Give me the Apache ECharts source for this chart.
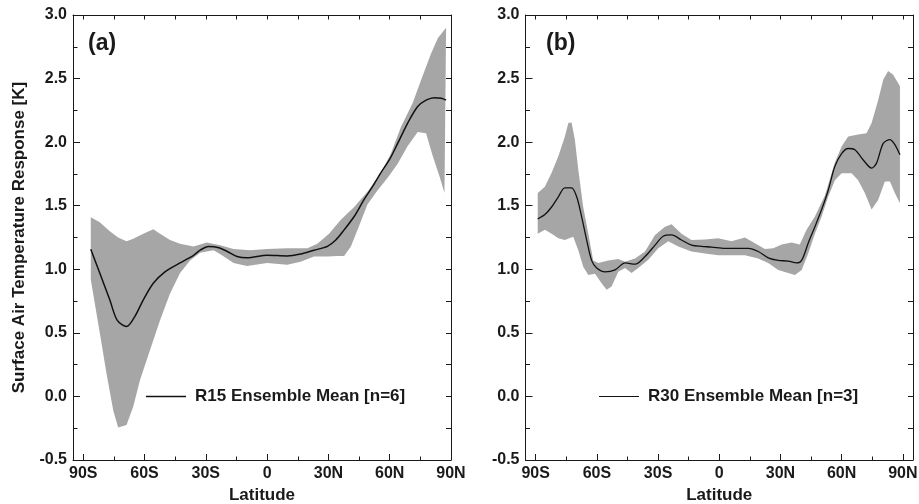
<!DOCTYPE html>
<html>
<head>
<meta charset="utf-8">
<script src="https://cdn.jsdelivr.net/npm/echarts@6/dist/echarts.min.js"></script>
<style>
  html, body { margin: 0; padding: 0; background: #fff; }
  #chart { width: 919px; height: 504px; }
</style>
</head>
<body>
<div id="chart"></div>
<script>
// tick labels
const latTicks = [-90, -60, -30, 0, 30, 60, 90];
const latMinor = [-75, -45, -15, 15, 45, 75];
const latAll = [-90, -75, -60, -45, -30, -15, 0, 15, 30, 45, 60, 75, 90];

// (a) R15 ensemble
const aMeanLat = [-86.3,-81.9,-77,-73.4,-68.8,-64.7,-60.6,-55.7,-50,-42.6,-36,-32.8,-28.7,-23.6,-19.5,-14.7,-9.8,0,9.8,16.4,22.9,29.5,33.6,37.7,42.6,47.5,51.6,55.7,59.8,63.9,68.8,73.7,77.8,81.9,85.2,87.6];
const aMean = [1.157,0.97,0.76,0.60,0.55,0.63,0.76,0.89,0.98,1.05,1.11,1.15,1.18,1.17,1.14,1.10,1.09,1.11,1.105,1.12,1.15,1.18,1.23,1.31,1.415,1.55,1.65,1.76,1.86,1.99,2.15,2.28,2.33,2.35,2.345,2.33];
const aUpLat = [-86.3,-81.9,-77,-72.9,-68.8,-65.5,-60.6,-55.7,-52.4,-47.5,-42.6,-36,-29.5,-23,-16.4,-8.2,0,9.8,19.7,24.6,30.3,36.1,42.6,49.1,55.7,60.6,65.5,71.3,75.4,80.3,83.6,87.6];
const aUp = [1.41,1.37,1.30,1.25,1.22,1.24,1.28,1.315,1.28,1.23,1.20,1.18,1.21,1.19,1.16,1.15,1.16,1.165,1.165,1.20,1.28,1.39,1.49,1.61,1.76,1.91,2.12,2.31,2.49,2.70,2.82,2.90];
const aLoLat = [-86.3,-81.9,-78.6,-75.3,-72.9,-68.8,-65.5,-62.2,-57.3,-52.4,-47.5,-42.6,-37.7,-32.8,-26.2,-22.1,-16.4,-9.8,0,9.8,16.4,22.9,29.5,34.4,37.7,41,45,49.1,54,59,63.9,68.8,73.7,77.8,81.1,84.4,86.8];
const aLo = [0.92,0.50,0.18,-0.11,-0.245,-0.225,-0.08,0.13,0.365,0.60,0.81,0.97,1.07,1.13,1.15,1.11,1.05,1.025,1.05,1.035,1.06,1.10,1.10,1.105,1.105,1.18,1.34,1.51,1.62,1.72,1.83,1.97,2.08,2.07,1.89,1.73,1.60];

// (b) R30 ensemble
const bMeanLat = [-89,-85.5,-82.2,-78.9,-75.7,-72.4,-69.9,-67.5,-65,-62.6,-60.1,-56,-51.1,-46.2,-41.3,-36.4,-31.5,-27.5,-23.4,-18.5,-13.6,-8.7,-3.8,2.8,9.3,14.2,19.1,24,28.9,33.8,37.9,40.4,43.6,46.9,50.2,53.4,56.7,60,63.2,66.5,70.6,74.7,77.1,80.4,83.7,86.1,88.6];
const bMean = [1.396,1.43,1.49,1.57,1.64,1.64,1.57,1.415,1.23,1.07,1.01,0.98,0.995,1.05,1.04,1.10,1.19,1.26,1.27,1.23,1.19,1.18,1.175,1.165,1.165,1.165,1.14,1.09,1.07,1.065,1.05,1.07,1.205,1.335,1.47,1.62,1.81,1.91,1.95,1.94,1.86,1.795,1.835,1.99,2.02,1.98,1.90];
const bUpLat = [-89,-85.5,-82.2,-78.9,-75.7,-74,-72.4,-70.8,-69.1,-66.7,-64.2,-61.8,-59.3,-54.4,-49.5,-46.2,-41.3,-36.4,-31.5,-26.6,-23.4,-18.5,-13.6,-7,-0.5,6,12.6,17.5,22.4,26.5,30.6,35.5,39.5,42.8,46.9,51.8,56.7,60,63.2,68.1,72.2,74.7,77.9,80.4,82.8,85.3,88.6];
const bUp = [1.60,1.65,1.76,1.89,2.045,2.15,2.155,2.02,1.78,1.49,1.28,1.07,1.05,1.07,1.08,1.06,1.085,1.14,1.27,1.335,1.355,1.28,1.23,1.235,1.245,1.22,1.25,1.205,1.16,1.165,1.195,1.21,1.195,1.31,1.415,1.58,1.84,1.965,2.045,2.06,2.07,2.15,2.33,2.49,2.56,2.53,2.44];
const bLoLat = [-89,-85.5,-82.2,-78.9,-75.7,-71.6,-69.1,-66.7,-64.2,-60.9,-57.7,-55.2,-52.8,-49.5,-46.2,-43,-39.7,-34.8,-29.9,-25,-20.1,-13.6,-7,-0.5,6,12.6,19.1,24,28.9,33.8,37.1,40.4,43.6,46.9,50.2,53.4,56.7,60,64.9,68.1,71.4,74.7,77.9,81.2,83.7,86.1,88.6];
const bLo = [1.28,1.31,1.28,1.245,1.23,1.255,1.15,1.02,0.955,0.965,0.89,0.84,0.865,0.98,1.01,0.97,1.01,1.075,1.165,1.22,1.18,1.14,1.125,1.11,1.11,1.11,1.085,1.05,0.995,0.97,0.955,0.995,1.125,1.28,1.415,1.57,1.70,1.755,1.755,1.70,1.60,1.47,1.545,1.69,1.69,1.60,1.52];

const FONT = '"Liberation Sans", Arial, sans-serif';
const INK = '#1a1a1a';

function latFmt(v) {
  if (v === 0) return '0';
  return Math.abs(v) + (v < 0 ? 'S' : 'N');
}

function zip(xs, ys) {
  return xs.map((x, i) => [x, ys[i]]);
}

// band between the min and max of the ensemble
function bandRender(upLat, up, loLat, lo) {
  return function (params, api) {
    const pts = [];
    for (let i = 0; i < upLat.length; i++) pts.push(api.coord([upLat[i], up[i]]));
    for (let i = loLat.length - 1; i >= 0; i--) pts.push(api.coord([loLat[i], lo[i]]));
    return { type: 'polygon', shape: { points: pts }, style: { fill: '#a6a6a6' } };
  };
}

function xAxes(grid, max) {
  return [
    {
      type: 'value', gridIndex: grid, min: -95, max: max, position: 'bottom',
      axisLine: { show: true, onZero: false, lineStyle: { color: INK, width: 1 } },
      splitLine: { show: false },
      axisTick: { inside: true, length: 6, customValues: latTicks, lineStyle: { color: INK } },
      axisLabel: {
        customValues: latTicks, formatter: latFmt, margin: 6,
        fontSize: 16, fontWeight: 'bold', color: INK, fontFamily: FONT
      },
      name: 'Latitude', nameLocation: 'middle', nameGap: 25,
      nameTextStyle: { fontSize: 17, fontWeight: 'bold', color: INK, fontFamily: FONT }
    },
    {
      type: 'value', gridIndex: grid, min: -95, max: max, position: 'bottom',
      axisLine: { show: false, onZero: false },
      splitLine: { show: false },
      axisTick: { inside: true, length: 3.5, customValues: latMinor, lineStyle: { color: INK } },
      axisLabel: { show: false }
    },
    {
      type: 'value', gridIndex: grid, min: -95, max: max, position: 'top',
      axisLine: { show: true, onZero: false, lineStyle: { color: INK, width: 1 } },
      splitLine: { show: false },
      axisTick: { inside: true, length: 4.5, customValues: latAll, lineStyle: { color: INK } },
      axisLabel: { show: false }
    }
  ];
}

function yAxes(grid, withName) {
  const main = {
    type: 'value', gridIndex: grid, min: -0.5, max: 3, interval: 0.5, position: 'left',
    axisLine: { show: true, onZero: false, lineStyle: { color: INK, width: 1 } },
    splitLine: { show: false },
    axisTick: { inside: true, length: 7, lineStyle: { color: INK } },
    axisLabel: {
      formatter: v => v.toFixed(1), margin: 6,
      fontSize: 16, fontWeight: 'bold', color: INK, fontFamily: FONT
    }
  };
  if (withName) {
    main.name = 'Surface Air Temperature Response [K]';
    main.nameLocation = 'middle';
    main.nameGap = 45;
    main.nameTextStyle = { fontSize: 17, fontWeight: 'bold', color: INK, fontFamily: FONT };
  }
  return [
    main,
    {
      type: 'value', gridIndex: grid, min: -0.5, max: 3, interval: 0.25, position: 'left',
      axisLine: { show: false, onZero: false },
      splitLine: { show: false },
      axisTick: { inside: true, length: 4.5, lineStyle: { color: INK } },
      axisLabel: { show: false }
    },
    {
      type: 'value', gridIndex: grid, min: -0.5, max: 3, interval: 0.25, position: 'right',
      axisLine: { show: true, onZero: false, lineStyle: { color: INK, width: 1 } },
      splitLine: { show: false },
      axisTick: { inside: true, length: 5, lineStyle: { color: INK } },
      axisLabel: { show: false }
    }
  ];
}

const nameA = 'R15 Ensemble Mean [n=6]';
const nameB = 'R30 Ensemble Mean [n=3]';

const legendText = { fontSize: 17, fontWeight: 'bold', color: INK, fontFamily: FONT, padding: [0, 0, 0, 4] };

const chart = echarts.init(document.getElementById('chart'), null, { renderer: 'canvas' });
chart.setOption({
  animation: false,
  backgroundColor: '#fff',
  grid: [
    { left: 73, top: 15, width: 378, height: 445, outerBoundsMode: 'none' },
    { left: 525.5, top: 15, width: 387.5, height: 445, outerBoundsMode: 'none' }
  ],
  xAxis: xAxes(0, 90).concat(xAxes(1, 95)),
  yAxis: yAxes(0, true).concat(yAxes(1, false)),
  legend: [
    {
      data: [nameA], left: 146, top: 388, padding: 0, icon: 'rect',
      itemWidth: 40, itemHeight: 1.5, itemStyle: { color: '#111' },
      textStyle: legendText, selectedMode: false
    },
    {
      data: [nameB], left: 599, top: 388, padding: 0, icon: 'rect',
      itemWidth: 40, itemHeight: 1.2, itemStyle: { color: '#111' },
      textStyle: legendText, selectedMode: false
    }
  ],
  graphic: [
    { type: 'text', left: 88, top: 32, style: { text: '(a)', font: 'bold 23px ' + FONT, fill: INK } },
    { type: 'text', left: 546, top: 32, style: { text: '(b)', font: 'bold 23px ' + FONT, fill: INK } }
  ],
  series: [
    {
      type: 'custom', xAxisIndex: 0, yAxisIndex: 0, silent: true, z: 1,
      renderItem: bandRender(aUpLat, aUp, aLoLat, aLo), data: [[0, 1]]
    },
    {
      name: nameA, type: 'line', xAxisIndex: 0, yAxisIndex: 0, z: 3,
      data: zip(aMeanLat, aMean), symbol: 'none', smooth: 0.3,
      lineStyle: { color: '#111', width: 1.5 }, itemStyle: { color: '#111' }
    },
    {
      type: 'custom', xAxisIndex: 3, yAxisIndex: 3, silent: true, z: 1,
      renderItem: bandRender(bUpLat, bUp, bLoLat, bLo), data: [[0, 1]]
    },
    {
      name: nameB, type: 'line', xAxisIndex: 3, yAxisIndex: 3, z: 3,
      data: zip(bMeanLat, bMean), symbol: 'none', smooth: 0.3,
      lineStyle: { color: '#111', width: 1.3 }, itemStyle: { color: '#111' }
    }
  ]
});
</script>
</body>
</html>
